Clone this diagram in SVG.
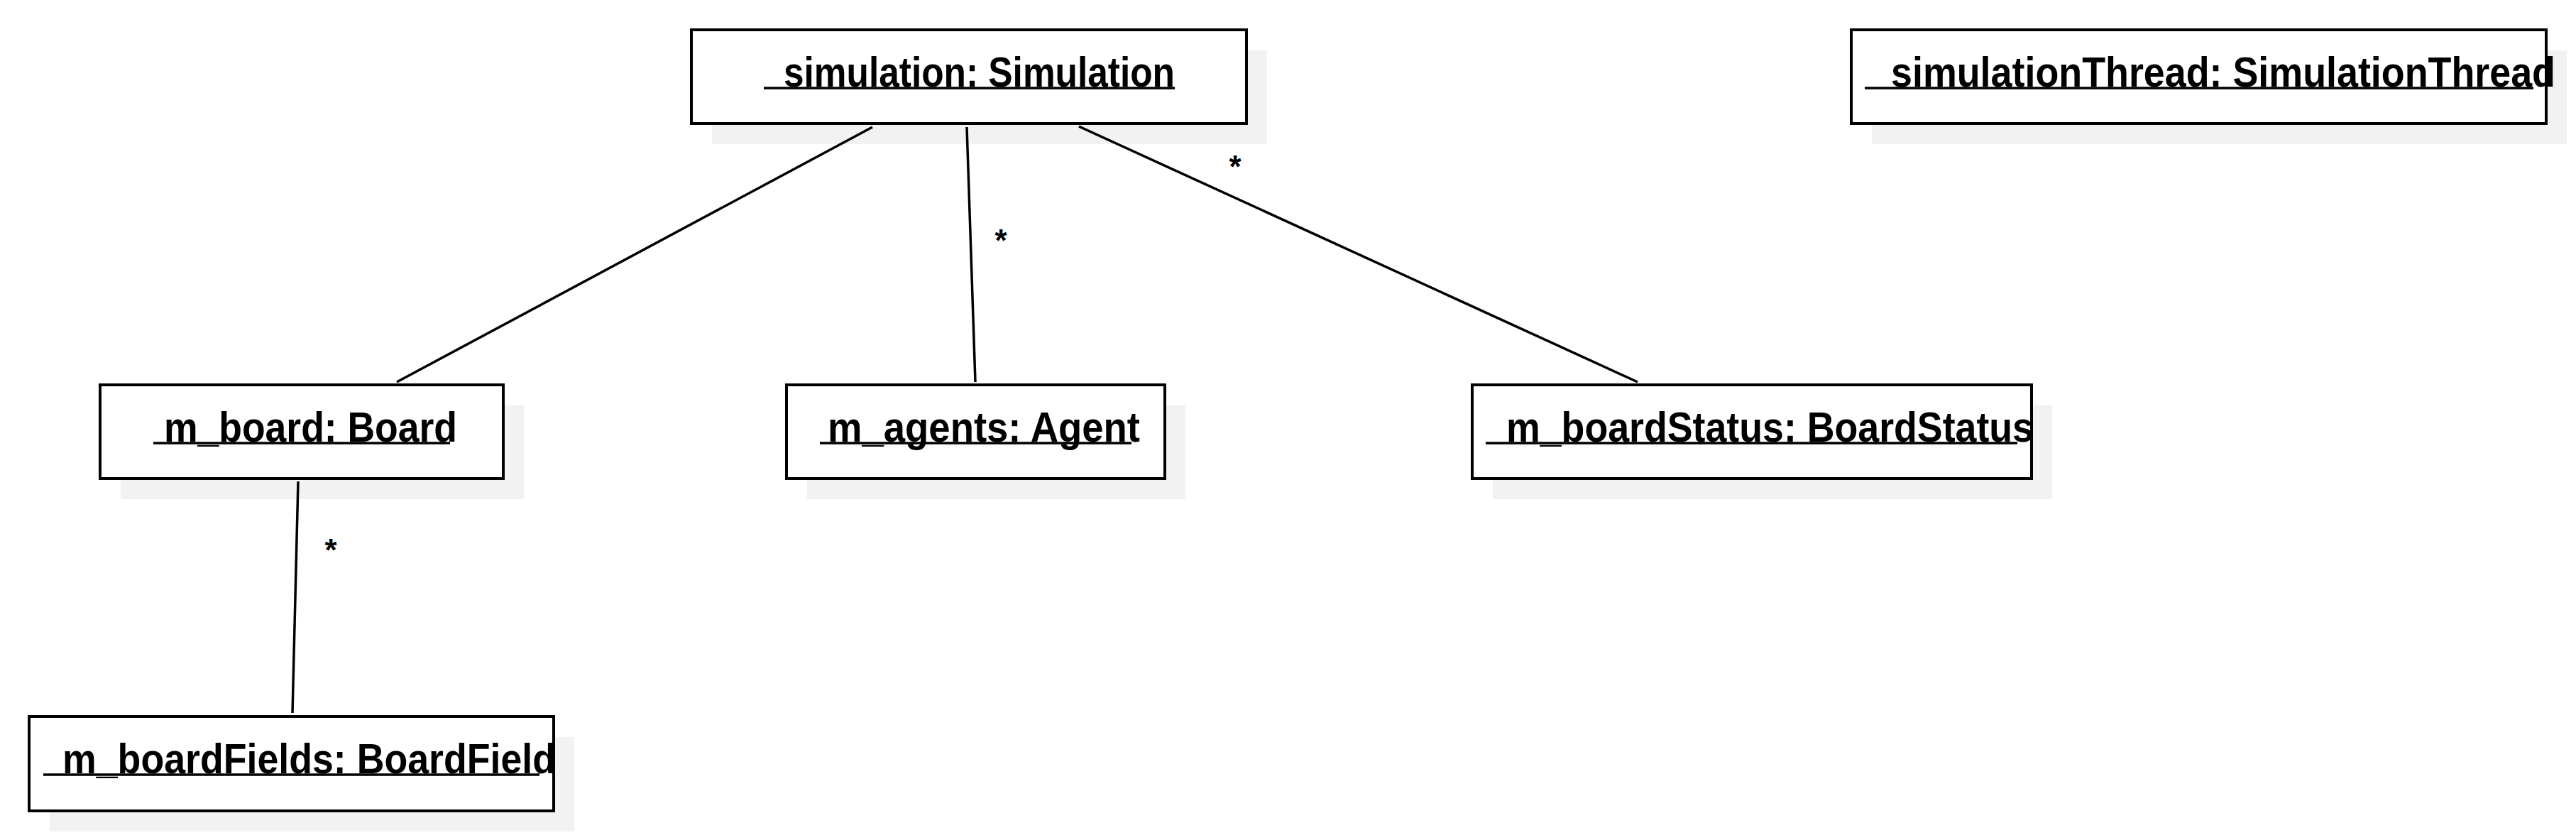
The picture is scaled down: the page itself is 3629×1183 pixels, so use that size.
<svg xmlns="http://www.w3.org/2000/svg" width="3629" height="1183" viewBox="0 0 3629 1183">
<style>
.shadow{fill:#f2f2f2;stroke:none}
.box{fill:#ffffff;stroke:#000000;stroke-width:4}
.lbl{font-family:"Liberation Sans",Arial,sans-serif;font-weight:bold;font-size:60px;fill:#000000}
.ul{stroke:#000000;stroke-width:3.5}
.conn{stroke:#000000;stroke-width:3.5;fill:none}
.mult{font-family:"Liberation Sans",Arial,sans-serif;font-weight:bold;font-size:44px;fill:#000000;text-anchor:middle}
</style>
<rect width="3629" height="1183" fill="#ffffff"/>
<g id="simulation">
<rect class="shadow" x="1003" y="71" width="782" height="132"/>
<rect class="box" x="974" y="42" width="782" height="132"/>
<text class="lbl" x="1104" y="122" textLength="551" lengthAdjust="spacingAndGlyphs">simulation: Simulation</text>
<line class="ul" x1="1076" y1="124" x2="1655" y2="124"/>
</g>
<g id="simulationThread">
<rect class="shadow" x="2637" y="71" width="979" height="132"/>
<rect class="box" x="2608" y="42" width="979" height="132"/>
<text class="lbl" x="2664" y="122" textLength="936" lengthAdjust="spacingAndGlyphs">simulationThread: SimulationThread</text>
<line class="ul" x1="2627" y1="124" x2="3569" y2="124"/>
</g>
<g id="m_board">
<rect class="shadow" x="170" y="571" width="568" height="132"/>
<rect class="box" x="141" y="542" width="568" height="132"/>
<text class="lbl" x="231" y="622" textLength="413" lengthAdjust="spacingAndGlyphs">m_board: Board</text>
<line class="ul" x1="216" y1="624" x2="634" y2="624"/>
</g>
<g id="m_agents">
<rect class="shadow" x="1137" y="571" width="533" height="132"/>
<rect class="box" x="1108" y="542" width="533" height="132"/>
<text class="lbl" x="1166" y="622" textLength="440" lengthAdjust="spacingAndGlyphs">m_agents: Agent</text>
<line class="ul" x1="1155" y1="624" x2="1594" y2="624"/>
</g>
<g id="m_boardStatus">
<rect class="shadow" x="2103" y="571" width="788" height="132"/>
<rect class="box" x="2074" y="542" width="788" height="132"/>
<text class="lbl" x="2122" y="622" textLength="743" lengthAdjust="spacingAndGlyphs">m_boardStatus: BoardStatus</text>
<line class="ul" x1="2093" y1="624" x2="2842" y2="624"/>
</g>
<g id="m_boardFields">
<rect class="shadow" x="70" y="1038" width="739" height="133"/>
<rect class="box" x="41" y="1009" width="739" height="133"/>
<text class="lbl" x="88" y="1089" textLength="695" lengthAdjust="spacingAndGlyphs">m_boardFields: BoardField</text>
<line class="ul" x1="61" y1="1091" x2="760" y2="1091"/>
</g>
<g id="connectors">
<line class="conn" x1="1229" y1="179" x2="559" y2="538"/>
<line class="conn" x1="1362" y1="179" x2="1374" y2="538"/>
<line class="conn" x1="1520" y1="178" x2="2307" y2="538"/>
<line class="conn" x1="420" y1="678" x2="412" y2="1004"/>
<text class="mult" x="1740" y="250">*</text>
<text class="mult" x="1410" y="354">*</text>
<text class="mult" x="466" y="790">*</text>
</g>
</svg>
